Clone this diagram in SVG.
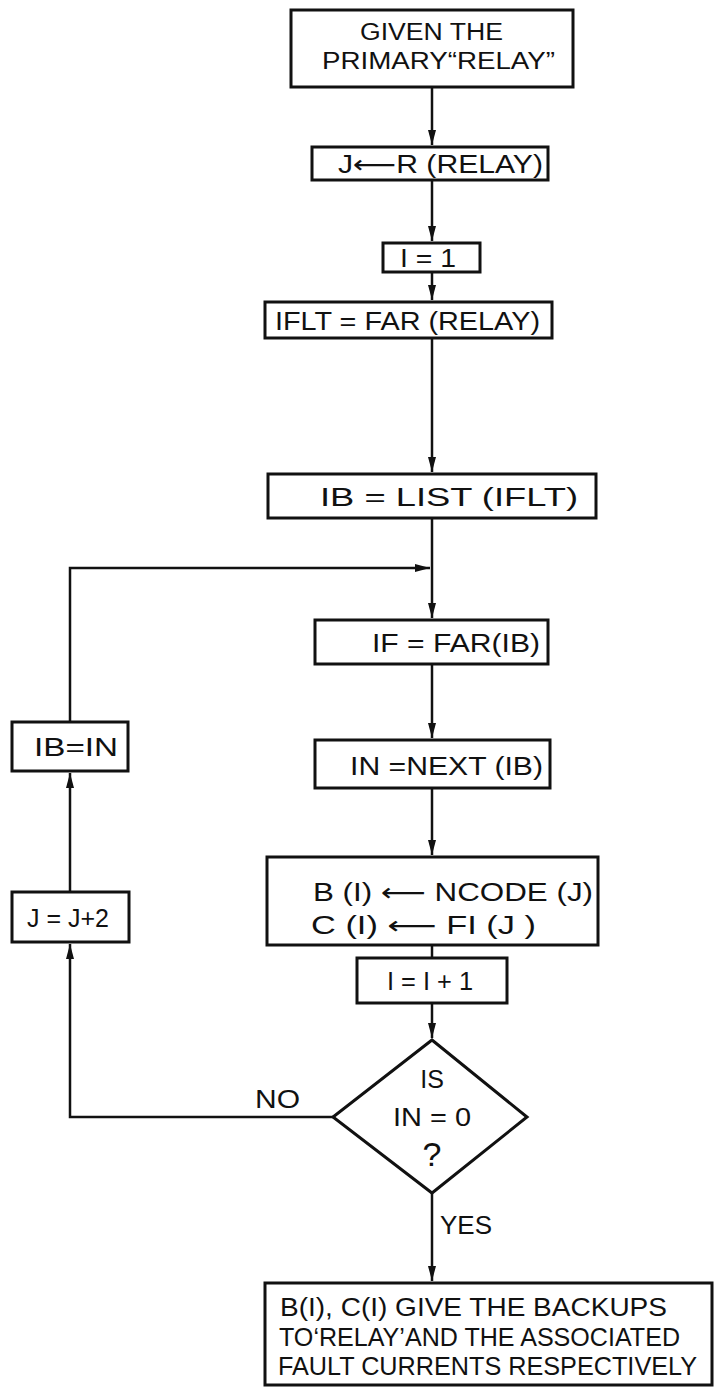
<svg xmlns="http://www.w3.org/2000/svg" width="714" height="1391" viewBox="0 0 714 1391">
<style>
.box{fill:#fff;stroke:#111;stroke-width:3}
.ln{fill:none;stroke:#111;stroke-width:2.5}
.t{font-family:"Liberation Sans","DejaVu Sans",sans-serif;font-size:25px;fill:#111}
.s{font-size:23px}
.q{font-size:34px}
</style>
<defs>
<marker id="ah" markerWidth="16" markerHeight="10" refX="15" refY="5" orient="auto" markerUnits="userSpaceOnUse">
<path d="M0,1 L15,5 L0,9 Z" fill="#111"/>
</marker>
</defs>
<rect width="714" height="1391" fill="#fff"/>
<g id="connectors">
<path class="ln" d="M432,87 V145" marker-end="url(#ah)"/>
<path class="ln" d="M432,180 V241" marker-end="url(#ah)"/>
<path class="ln" d="M432,272 V300" marker-end="url(#ah)"/>
<path class="ln" d="M432,338 V472" marker-end="url(#ah)"/>
<path class="ln" d="M432,518 V618" marker-end="url(#ah)"/>
<path class="ln" d="M432,664 V738" marker-end="url(#ah)"/>
<path class="ln" d="M432,788 V855" marker-end="url(#ah)"/>
<path class="ln" d="M432,945 V958"/>
<path class="ln" d="M432,1003 V1038" marker-end="url(#ah)"/>
<path class="ln" d="M432,1193 V1281" marker-end="url(#ah)"/>
<path class="ln" d="M333,1117 H70 V944" marker-end="url(#ah)"/>
<path class="ln" d="M70,892 V773" marker-end="url(#ah)"/>
<path class="ln" d="M70,722 V568 H430" marker-end="url(#ah)"/>
<text class="t" x="255" y="1108" textLength="45" lengthAdjust="spacingAndGlyphs">NO</text>
<text class="t" x="440" y="1234" textLength="52" lengthAdjust="spacingAndGlyphs">YES</text>
</g>
<g id="start">
<rect class="box" x="291" y="10" width="282" height="77"/>
<text class="t s" x="360" y="40" textLength="143" lengthAdjust="spacingAndGlyphs">GIVEN THE</text>
<text class="t s" x="322" y="69" textLength="233" lengthAdjust="spacingAndGlyphs">PRIMARY“RELAY”</text>
</g>
<g id="n-j">
<rect class="box" x="312" y="147" width="236" height="33"/>
<text class="t" x="338" y="173" textLength="205" lengthAdjust="spacingAndGlyphs">J⟵R (RELAY)</text>
</g>
<g id="n-i1">
<rect class="box" x="383" y="243" width="97" height="29"/>
<text class="t" x="400" y="267" textLength="56" lengthAdjust="spacingAndGlyphs">I = 1</text>
</g>
<g id="n-iflt">
<rect class="box" x="265" y="302" width="287" height="36"/>
<text class="t" x="275" y="330" textLength="265" lengthAdjust="spacingAndGlyphs">IFLT = FAR (RELAY)</text>
</g>
<g id="n-ib">
<rect class="box" x="268" y="474" width="328" height="44"/>
<text class="t" x="320" y="506" textLength="258" lengthAdjust="spacingAndGlyphs">IB = LIST (IFLT)</text>
</g>
<g id="n-if">
<rect class="box" x="315" y="620" width="233" height="44"/>
<text class="t" x="372" y="652" textLength="168" lengthAdjust="spacingAndGlyphs">IF = FAR(IB)</text>
</g>
<g id="n-in">
<rect class="box" x="315" y="740" width="235" height="48"/>
<text class="t" x="350" y="775" textLength="193" lengthAdjust="spacingAndGlyphs">IN =NEXT (IB)</text>
</g>
<g id="n-bc">
<rect class="box" x="267" y="857" width="331" height="88"/>
<text class="t" x="313" y="901" textLength="280" lengthAdjust="spacingAndGlyphs">B (I) ⟵ NCODE (J)</text>
<text class="t" x="311" y="934" textLength="225" lengthAdjust="spacingAndGlyphs">C (I) ⟵ FI (J )</text>
</g>
<g id="n-inc">
<rect class="box" x="357" y="958" width="150" height="45"/>
<text class="t" x="387" y="990" textLength="86" lengthAdjust="spacingAndGlyphs">I = I + 1</text>
</g>
<g id="n-dec">
<path class="box" d="M432,1040 L527,1117 L432,1193 L333,1117 Z"/>
<text class="t" x="432" y="1088" text-anchor="middle">IS</text>
<text class="t" x="432" y="1126" text-anchor="middle" textLength="78" lengthAdjust="spacingAndGlyphs">IN = 0</text>
<text class="t q" x="432" y="1166" text-anchor="middle">?</text>
</g>
<g id="n-ibin">
<rect class="box" x="12" y="722" width="116" height="49"/>
<text class="t" x="34" y="756" textLength="84" lengthAdjust="spacingAndGlyphs">IB=IN</text>
</g>
<g id="n-jj2">
<rect class="box" x="12" y="892" width="117" height="50"/>
<text class="t" x="27" y="927" textLength="82" lengthAdjust="spacingAndGlyphs">J = J+2</text>
</g>
<g id="end">
<rect class="box" x="265" y="1283" width="447" height="102"/>
<text class="t" x="280" y="1316" textLength="387" lengthAdjust="spacingAndGlyphs">B(I), C(I) GIVE THE BACKUPS</text>
<text class="t" x="279" y="1346" textLength="401" lengthAdjust="spacingAndGlyphs">TO‘RELAY’AND THE ASSOCIATED</text>
<text class="t" x="278" y="1375" textLength="419" lengthAdjust="spacingAndGlyphs">FAULT CURRENTS RESPECTIVELY</text>
</g>
</svg>
